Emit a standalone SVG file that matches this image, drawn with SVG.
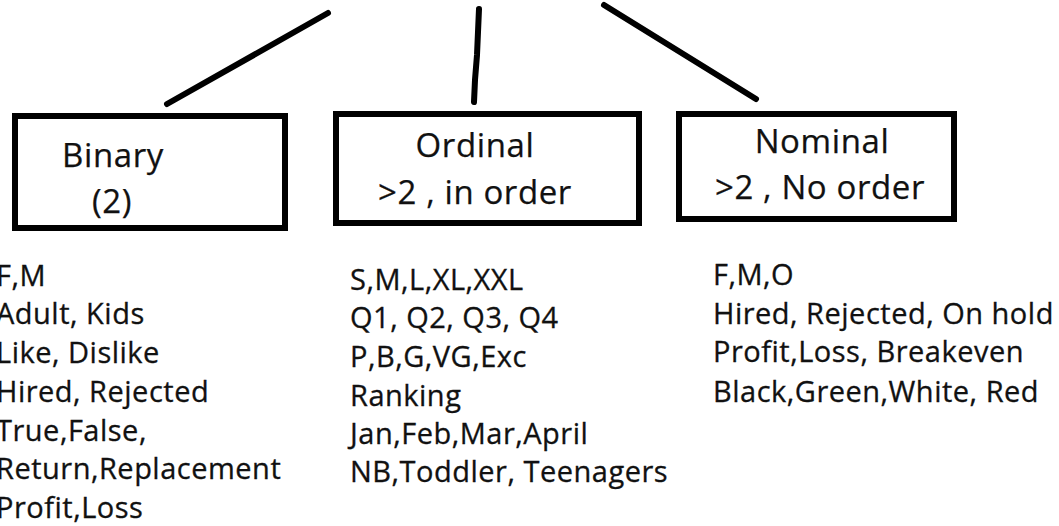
<svg xmlns="http://www.w3.org/2000/svg" width="1059" height="526" viewBox="0 0 1059 526">
<style>
.box{fill:#fff;stroke:#000;stroke-width:6}
.conn{stroke:#000;stroke-width:6;stroke-linecap:round;fill:none}
.h{font-family:"Open Sans","Liberation Sans",sans-serif;font-size:33px;fill:#111;text-anchor:middle;letter-spacing:0.6px;stroke:#111;stroke-width:0.25}
.b{font-family:"Open Sans","Liberation Sans",sans-serif;font-size:29px;fill:#111;letter-spacing:0.5px;stroke:#111;stroke-width:0.3}
</style>
<rect width="1059" height="526" fill="#fff"/>
<g id="connectors">
<line class="conn" x1="167" y1="104" x2="328" y2="13"/>
<polyline class="conn" points="479,9 477,55 475,80 474,102"/>
<line class="conn" x1="604" y1="5" x2="756" y2="99"/>
</g>
<g id="binary">
<rect class="box" x="15" y="116" width="270" height="112"/>
<text class="h" x="113" y="167">Binary</text>
<text class="h" x="112" y="213">(2)</text>
</g>
<g id="ordinal">
<rect class="box" x="336" y="114" width="303" height="109"/>
<text class="h" x="475" y="157">Ordinal</text>
<text class="h" x="475" y="204">&gt;2 , in order</text>
</g>
<g id="nominal">
<rect class="box" x="679" y="114" width="275" height="105"/>
<text class="h" x="822" y="153">Nominal</text>
<text class="h" x="820" y="199">&gt;2 , No order</text>
</g>
<g id="binary-examples">
<text class="b" x="-4" y="286">F,M</text>
<text class="b" x="-4" y="324">Adult, Kids</text>
<text class="b" x="-4" y="363">Like, Dislike</text>
<text class="b" x="-4" y="402">Hired, Rejected</text>
<text class="b" x="-4" y="441">True,False,</text>
<text class="b" x="-4" y="479">Return,Replacement</text>
<text class="b" x="-4" y="518">Profit,Loss</text>
</g>
<g id="ordinal-examples">
<text class="b" x="350" y="290">S,M,L,XL,XXL</text>
<text class="b" x="350" y="328">Q1, Q2, Q3, Q4</text>
<text class="b" x="350" y="367">P,B,G,VG,Exc</text>
<text class="b" x="350" y="406">Ranking</text>
<text class="b" x="350" y="444">Jan,Feb,Mar,April</text>
<text class="b" x="350" y="482">NB,Toddler, Teenagers</text>
</g>
<g id="nominal-examples">
<text class="b" x="713" y="285">F,M,O</text>
<text class="b" x="713" y="324">Hired, Rejected, On hold</text>
<text class="b" x="713" y="362">Profit,Loss, Breakeven</text>
<text class="b" x="713" y="402">Black,Green,White, Red</text>
</g>
</svg>
